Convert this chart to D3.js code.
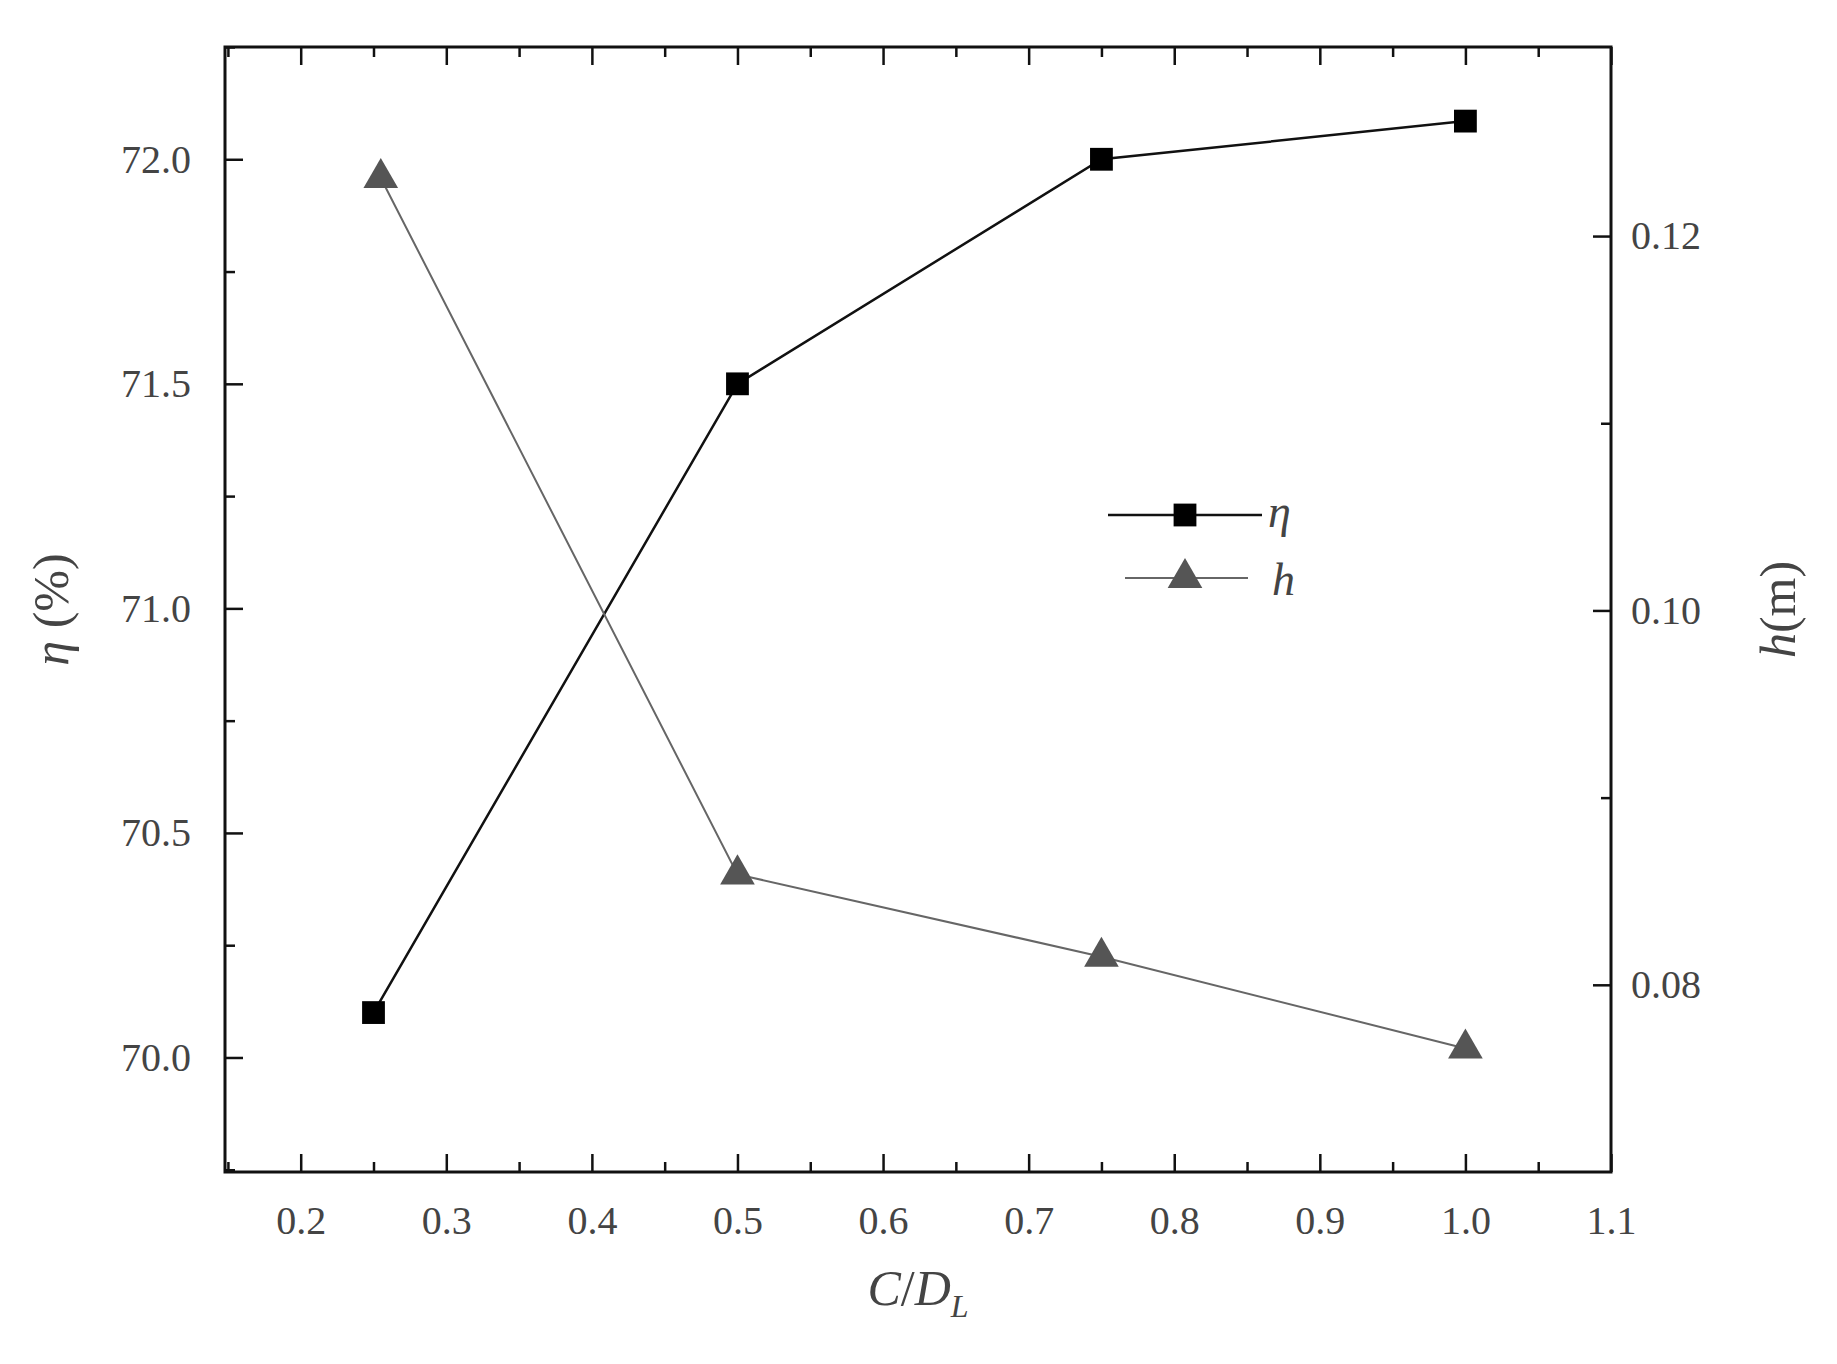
<!DOCTYPE html>
<html><head><meta charset="utf-8">
<script src="https://cdn.jsdelivr.net/npm/d3@7"></script>
<style>body{margin:0;background:#fff}text{font-family:"Liberation Serif",serif;fill:#444}</style>
</head><body><div id="chart"></div>
<script>
const width = 1837, height = 1364
const margin = {left: 225, right: 226, top: 47, bottom: 192}

const cd = [0.25, 0.5, 0.75, 1.0]
const eta = [70.1, 71.5, 72.0, 72.085]
const hx = [0.255, 0.5, 0.75, 1.0]
const hval = [0.1231, 0.0859, 0.0815, 0.0766]
const xTicks = [0.2, 0.3, 0.4, 0.5, 0.6, 0.7, 0.8, 0.9, 1.0, 1.1]
const etaTicks = [70.0, 70.5, 71.0, 71.5, 72.0]
const hTicks = [0.08, 0.10, 0.12]

const svg = d3.select("#chart").append("svg").attr("width", width).attr("height", height)

const x = d3.scaleLinear().domain([0.148, 1.1]).range([margin.left, width - margin.right])
const yL = d3.scaleLinear().domain([69.745, 72.25]).range([height - margin.bottom, margin.top])
const yR = d3.scaleLinear().domain([0.07, 0.1301]).range([height - margin.bottom, margin.top])

const x0 = margin.left, x1 = width - margin.right, y0 = height - margin.bottom, y1 = margin.top

const tick = (g) => g.selectAll(".domain").remove()
const styleAx = (g) => { g.selectAll("line").attr("stroke", "#111").attr("stroke-width", 2.5); g.selectAll("text").attr("font-size", 40).attr("fill", "#444") }

// x bottom
svg.append("g").attr("transform", `translate(0,${y0})`)
    .call(d3.axisBottom(x).tickValues(xTicks).tickSizeInner(-18).tickSizeOuter(0).tickPadding(34).tickFormat(d3.format(".1f")))
    .call(tick).call(styleAx)
svg.append("g").attr("transform", `translate(0,${y0})`)
    .call(d3.axisBottom(x).tickValues(d3.range(0.15, 1.1, 0.1)).tickSize(-10).tickFormat(""))
    .call(tick).call(styleAx)
// x top
svg.append("g").attr("transform", `translate(0,${y1})`)
    .call(d3.axisTop(x).tickValues(xTicks).tickSize(-18).tickFormat(""))
    .call(tick).call(styleAx)
svg.append("g").attr("transform", `translate(0,${y1})`)
    .call(d3.axisTop(x).tickValues(d3.range(0.15, 1.1, 0.1)).tickSize(-10).tickFormat(""))
    .call(tick).call(styleAx)
// left
svg.append("g").attr("transform", `translate(${x0},0)`)
    .call(d3.axisLeft(yL).tickValues(etaTicks).tickSizeInner(-18).tickSizeOuter(0).tickPadding(34).tickFormat(d3.format(".1f")))
    .call(tick).call(styleAx)
svg.append("g").attr("transform", `translate(${x0},0)`)
    .call(d3.axisLeft(yL).tickValues(d3.range(69.75, 72.3, 0.25).filter(v => Math.abs(v * 2 - Math.round(v * 2)) > 0.01)).tickSize(-10).tickFormat(""))
    .call(tick).call(styleAx)
// right
svg.append("g").attr("transform", `translate(${x1},0)`)
    .call(d3.axisRight(yR).tickValues(hTicks).tickSizeInner(-18).tickSizeOuter(0).tickPadding(20).tickFormat(d3.format(".2f")))
    .call(tick).call(styleAx)
svg.append("g").attr("transform", `translate(${x1},0)`)
    .call(d3.axisRight(yR).tickValues([0.09, 0.11]).tickSize(-10).tickFormat(""))
    .call(tick).call(styleAx)

svg.append("rect").attr("x", x0).attr("y", y1).attr("width", x1 - x0).attr("height", y0 - y1)
    .attr("fill", "none").attr("stroke", "#111").attr("stroke-width", 3)

// lines
const etaPts = cd.map((c, i) => [x(c), yL(eta[i])])
const hPts = hx.map((c, i) => [x(c), yR(hval[i])])
svg.append("path").attr("d", d3.line()(etaPts)).attr("fill", "none").attr("stroke", "#111").attr("stroke-width", 2.5)
svg.append("path").attr("d", d3.line()(hPts)).attr("fill", "none").attr("stroke", "#666").attr("stroke-width", 2)
const sq = d3.symbol().type(d3.symbolSquare).size(520)
const tri = d3.symbol().type(d3.symbolTriangle).size(520)
svg.selectAll(".sq").data(etaPts).join("path").attr("transform", d => `translate(${d})`).attr("d", sq).attr("fill", "#000")
svg.selectAll(".tri").data(hPts).join("path").attr("transform", d => `translate(${d})`).attr("d", tri).attr("fill", "#555")

// legend
svg.append("line").attr("x1", 1108).attr("x2", 1262).attr("y1", 515).attr("y2", 515).attr("stroke", "#111").attr("stroke-width", 2.5)
svg.append("path").attr("transform", "translate(1185,515)").attr("d", sq).attr("fill", "#000")
svg.append("text").attr("x", 1268).attr("y", 527).attr("font-size", 46).attr("font-style", "italic").text("η")
svg.append("line").attr("x1", 1125).attr("x2", 1248).attr("y1", 578).attr("y2", 578).attr("stroke", "#666").attr("stroke-width", 2)
svg.append("path").attr("transform", "translate(1185,578)").attr("d", tri).attr("fill", "#555")
svg.append("text").attr("x", 1272).attr("y", 595).attr("font-size", 46).attr("font-style", "italic").text("h")

// axis titles
svg.append("text").attr("x", (x0 + x1) / 2).attr("y", 1305).attr("text-anchor", "middle").attr("font-size", 50)
    .html('<tspan font-style="italic">C</tspan>/<tspan font-style="italic">D</tspan><tspan font-style="italic" font-size="32" dy="12">L</tspan>')
svg.append("text").attr("transform", `translate(68,${(y0 + y1) / 2}) rotate(-90)`).attr("text-anchor", "middle").attr("font-size", 50)
    .html('<tspan font-style="italic">η</tspan> (%)')
svg.append("text").attr("transform", `translate(1795,${(y0 + y1) / 2}) rotate(-90)`).attr("text-anchor", "middle").attr("font-size", 50)
    .html('<tspan font-style="italic">h</tspan>(m)')
</script></body></html>
